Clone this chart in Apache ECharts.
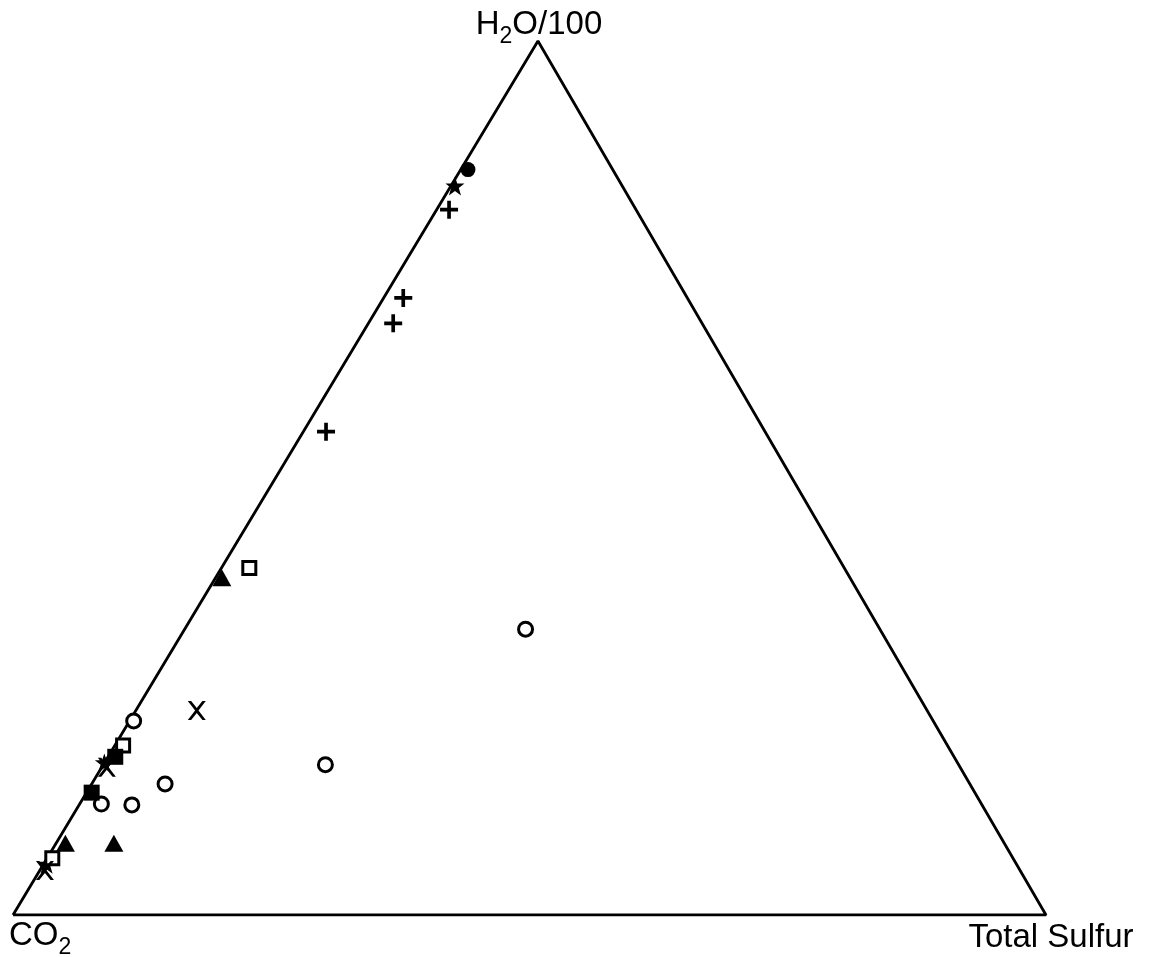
<!DOCTYPE html>
<html>
<head>
<meta charset="utf-8">
<style>html,body{margin:0;padding:0;background:#fff;}#chart{width:1153px;height:957px;}</style>
<script src="https://cdn.jsdelivr.net/npm/echarts@6/dist/echarts.min.js"></script>
</head>
<body>
<div id="chart"></div>
<script>
// Ternary data: [CO2, H2O/100, Total Sulfur] in percent
var vertexNames = ['CO2', 'H2O/100', 'Total Sulfur'];
var filledCircle = [[14.0, 85.2, 0.7]];
var star = [[16.2, 83.4, 0.4], [82.6, 17.4, 0.0], [93.9, 5.8, 0.3]];
var plus = [[18.1, 80.7, 1.2], [27.5, 70.6, 1.9], [29.9, 67.7, 2.4], [42.5, 55.3, 2.2]];
var filledTriangle = [[60.8, 38.6, 0.6], [90.8, 8.2, 0.9], [86.2, 8.2, 5.6]];
var openSquare = [[57.6, 39.7, 2.7], [79.8, 19.4, 0.8], [93.0, 6.5, 0.5]];
var openCircle = [[34.3, 32.7, 33.0], [61.3, 17.2, 21.5], [77.4, 22.2, 0.4], [85.2, 12.7, 2.1], [82.3, 12.6, 5.1], [77.9, 15.0, 7.1]];
var crossX = [[70.7, 23.4, 5.9], [82.6, 16.9, 0.5], [94.4, 5.1, 0.5]];
var filledSquare = [[81.2, 18.1, 0.7], [85.5, 14.0, 0.5]];

var APEX_X = 0.5082; // horizontal position of the H2O apex along base
function tern(p) {
  var t = p[0] + p[1] + p[2];
  var h = p[1] / t, s = p[2] / t;
  return [s + h * APEX_X, h];
}
function conv(arr) { return arr.map(tern); }

var outline = conv([[100, 0, 0], [0, 0, 100], [0, 100, 0], [100, 0, 0]]);

var STAR = 'path://M50,0 L62,34 L100,34 L70,56 L82,93 L50,71 L18,93 L30,56 L0,34 L38,34 Z';
var PLUS = 'path://M7,0h3.6v7h7v3.6h-7v7h-3.6v-7h-7v-3.6h7z';
var XSYM = 'path://M0,0 L3,0 L8,6.3 L13,0 L16,0 L9.5,8.5 L16,17 L13,17 L8,10.7 L3,17 L0,17 L6.5,8.5 Z';

var font = '"Liberation Sans", Arial, Helvetica, sans-serif';
var rich = {
  m: { fontSize: 33, fontFamily: font, color: '#000', lineHeight: 40, verticalAlign: 'top', opacity: 1 },
  s: { fontSize: 23, fontFamily: font, color: '#000', lineHeight: 27, padding: [17, 0, 0, 0], verticalAlign: 'bottom', opacity: 1 }
};

function sc(name, data, symbol, size, filled, bw) {
  return {
    type: 'scatter', name: name, data: conv(data), symbol: symbol, symbolSize: size,
    itemStyle: filled ? { color: '#000', borderWidth: 0, opacity: 1 } : { color: '#fff', borderColor: '#000', borderWidth: bw || 3, opacity: 1 },
    z: 3, silent: true
  };
}

var chart = echarts.init(document.getElementById('chart'));
chart.setOption({
  animation: false,
  backgroundColor: '#fff',
  grid: { left: 13, right: 107, top: 41, bottom: 42 },
  xAxis: { type: 'value', min: 0, max: 1, show: false },
  yAxis: { type: 'value', min: 0, max: 1, show: false },
  series: [
    {
      type: 'line', data: outline, symbol: 'none', silent: true,
      lineStyle: { color: '#000', width: 2.8 }, z: 2
    },
    sc('filledCircle', filledCircle, 'circle', 15, true),
    sc('star', star, STAR, 19, true),
    sc('plus', plus, PLUS, 18, true),
    sc('filledTriangle', filledTriangle, 'triangle', [19, 17], true),
    sc('openSquare', openSquare, 'rect', 13, false),
    sc('openCircle', openCircle, 'circle', 14, false),
    sc('cross', crossX, XSYM, [18, 19], true),
    sc('filledSquare', filledSquare, 'rect', 16, true),
    {
      type: 'scatter', symbolSize: 0, silent: true, z: 5,
      itemStyle: { opacity: 1 },
      data: [
        { value: tern([100, 0, 0]), label: { show: true, color: '#000', opacity: 1, formatter: '{m|CO}{s|2}', position: [-4, 4], align: 'left', verticalAlign: 'top', rich: rich } },
        { value: tern([0, 100, 0]), label: { show: true, color: '#000', opacity: 1, formatter: '{m|H}{s|2}{m|O/100}', position: [1, -33], align: 'center', verticalAlign: 'top', rich: rich } },
        { value: tern([0, 0, 100]), label: { show: true, color: '#000', opacity: 1, formatter: '{m|Total Sulfur}', position: [5, 6], align: 'center', verticalAlign: 'top', rich: rich } }
      ]
    }
  ]
});
</script>
</body>
</html>
